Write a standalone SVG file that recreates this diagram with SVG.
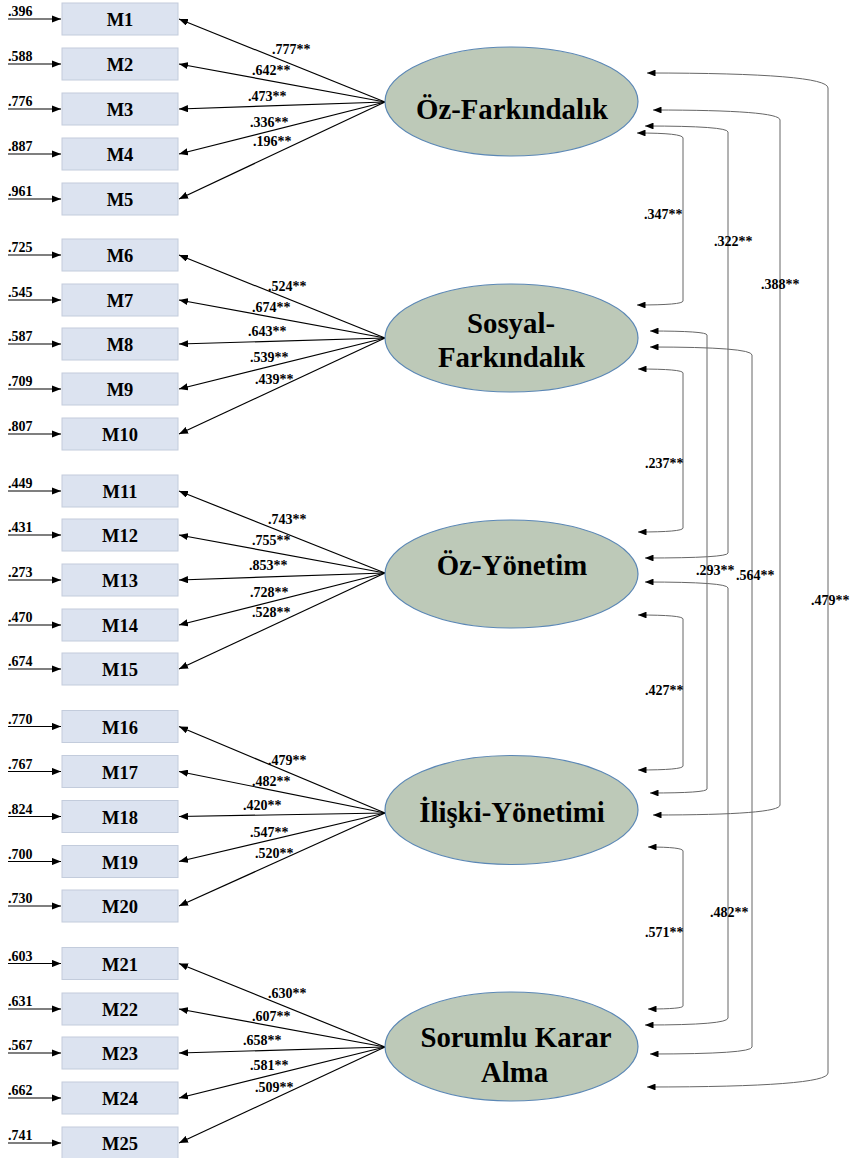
<svg xmlns="http://www.w3.org/2000/svg" width="852" height="1158" viewBox="0 0 852 1158">
<defs>
<marker id="ah" viewBox="0 0 10 8" refX="10" refY="4" markerWidth="9" markerHeight="7.2" markerUnits="userSpaceOnUse" orient="auto-start-reverse"><path d="M0,0 L10,4 L0,8 z" fill="#000"/></marker>
<marker id="ahs" viewBox="0 0 10 8" refX="10" refY="4" markerWidth="8.5" markerHeight="6.8" markerUnits="userSpaceOnUse" orient="auto-start-reverse"><path d="M0,0 L10,4 L0,8 z" fill="#000"/></marker>
</defs>
<style>
text{font-family:"Liberation Serif","Times New Roman",serif;font-weight:bold;fill:#000}
.box{fill:#dce3f0;stroke:#c3ccdc;stroke-width:1}
.bl{font-size:18.5px;text-anchor:middle}
.lat{fill:#bdc9b8;stroke:#5b87b5;stroke-width:1.2}
.ll{font-size:28.8px;text-anchor:middle}
.num{font-size:14px}
.load{stroke:#000;stroke-width:1.2;fill:none;marker-end:url(#ah)}
.err{stroke:#000;stroke-width:1.2;fill:none;marker-end:url(#ah)}
.cov{stroke:#666;stroke-width:1;fill:none;marker-start:url(#ahs);marker-end:url(#ahs)}
</style>
<rect width="852" height="1158" fill="#fff"/>

<g id="connectors">
<g id="errors">
<path class="err" d="M8,19 H61"/><path class="err" d="M8,64 H61"/><path class="err" d="M8,109 H61"/><path class="err" d="M8,154 H61"/><path class="err" d="M8,199 H61"/>
<path class="err" d="M8,255 H61"/><path class="err" d="M8,300 H61"/><path class="err" d="M8,344 H61"/><path class="err" d="M8,389 H61"/><path class="err" d="M8,434 H61"/>
<path class="err" d="M8,491 H61"/><path class="err" d="M8,535 H61"/><path class="err" d="M8,580 H61"/><path class="err" d="M8,625 H61"/><path class="err" d="M8,669 H61"/>
<path class="err" d="M8,726.5 H61"/><path class="err" d="M8,771.5 H61"/><path class="err" d="M8,816.5 H61"/><path class="err" d="M8,861.5 H61"/><path class="err" d="M8,906 H61"/>
<path class="err" d="M8,963.5 H61"/><path class="err" d="M8,1009 H61"/><path class="err" d="M8,1053 H61"/><path class="err" d="M8,1098 H61"/><path class="err" d="M8,1143 H61"/>
<text class="num" x="8" y="16">.396</text><text class="num" x="8" y="61">.588</text><text class="num" x="8" y="106">.776</text><text class="num" x="8" y="151">.887</text><text class="num" x="8" y="196">.961</text>
<text class="num" x="8" y="252">.725</text><text class="num" x="8" y="297">.545</text><text class="num" x="8" y="341">.587</text><text class="num" x="8" y="386">.709</text><text class="num" x="8" y="431">.807</text>
<text class="num" x="8" y="488">.449</text><text class="num" x="8" y="532">.431</text><text class="num" x="8" y="577">.273</text><text class="num" x="8" y="622">.470</text><text class="num" x="8" y="666">.674</text>
<text class="num" x="8" y="723.5">.770</text><text class="num" x="8" y="768.5">.767</text><text class="num" x="8" y="813.5">.824</text><text class="num" x="8" y="858.5">.700</text><text class="num" x="8" y="903">.730</text>
<text class="num" x="8" y="960.5">.603</text><text class="num" x="8" y="1006">.631</text><text class="num" x="8" y="1050">.567</text><text class="num" x="8" y="1095">.662</text><text class="num" x="8" y="1140">.741</text>
</g>
<g id="loadings">
<path class="load" d="M385,102 L179,19"/><path class="load" d="M385,102 L179,64"/><path class="load" d="M385,102 L179,109"/><path class="load" d="M385,102 L179,154"/><path class="load" d="M385,102 L179,199"/>
<path class="load" d="M385,338 L179,255"/><path class="load" d="M385,338 L179,300"/><path class="load" d="M385,338 L179,344"/><path class="load" d="M385,338 L179,389"/><path class="load" d="M385,338 L179,434"/>
<path class="load" d="M385,573 L179,491"/><path class="load" d="M385,573 L179,535"/><path class="load" d="M385,573 L179,580"/><path class="load" d="M385,573 L179,625"/><path class="load" d="M385,573 L179,669"/>
<path class="load" d="M385,813 L179,726.5"/><path class="load" d="M385,813 L179,771.5"/><path class="load" d="M385,813 L179,816.5"/><path class="load" d="M385,813 L179,861.5"/><path class="load" d="M385,813 L179,906"/>
<path class="load" d="M385,1047 L179,963.5"/><path class="load" d="M385,1047 L179,1009"/><path class="load" d="M385,1047 L179,1053"/><path class="load" d="M385,1047 L179,1098"/><path class="load" d="M385,1047 L179,1143"/>
<text class="num" x="272" y="54">.777**</text><text class="num" x="252" y="75">.642**</text><text class="num" x="248" y="101">.473**</text><text class="num" x="250" y="127">.336**</text><text class="num" x="253" y="146">.196**</text>
<text class="num" x="268" y="291">.524**</text><text class="num" x="252" y="312">.674**</text><text class="num" x="248" y="336">.643**</text><text class="num" x="250" y="362">.539**</text><text class="num" x="255" y="384">.439**</text>
<text class="num" x="268" y="524">.743**</text><text class="num" x="252" y="545">.755**</text><text class="num" x="249" y="570">.853**</text><text class="num" x="250" y="597">.728**</text><text class="num" x="252" y="617">.528**</text>
<text class="num" x="268" y="765">.479**</text><text class="num" x="252" y="786">.482**</text><text class="num" x="243" y="810">.420**</text><text class="num" x="250" y="837">.547**</text><text class="num" x="255" y="858">.520**</text>
<text class="num" x="268" y="998">.630**</text><text class="num" x="252" y="1021">.607**</text><text class="num" x="243" y="1045">.658**</text><text class="num" x="250" y="1070">.581**</text><text class="num" x="255" y="1092">.509**</text>
</g>
<g id="covariances">
<path class="cov" d="M637,133 Q683,133 683,138 V301 Q683,305 637,305"/>
<path class="cov" d="M645,126 Q728,126 728,132 V553 Q728,558 645,558"/>
<path class="cov" d="M653,110 Q780,110 780,120 V805 Q780,815 653,815"/>
<path class="cov" d="M647,73 Q828,73 828,88 V1073 Q828,1087 647,1087"/>
<path class="cov" d="M638,369 Q683,369 683,373 V528 Q683,532 638,532"/>
<path class="cov" d="M650,331 Q707,331 707,335 V789 Q707,793 650,793"/>
<path class="cov" d="M650,347 Q752,347 752,355 V1047 Q752,1054 650,1054"/>
<path class="cov" d="M638,615 Q683,615 683,619 V766 Q683,770 638,770"/>
<path class="cov" d="M645,582 Q728,582 728,588 V1018 Q728,1025 645,1025"/>
<path class="cov" d="M648,847 Q683,847 683,851 V1006 Q683,1009 648,1009"/>
<text class="num" x="644" y="219">.347**</text>
<text class="num" x="714" y="246">.322**</text>
<text class="num" x="761" y="289">.388**</text>
<text class="num" x="811" y="605">.479**</text>
<text class="num" x="645" y="468">.237**</text>
<text class="num" x="696" y="575">.293**</text>
<text class="num" x="736" y="580">.564**</text>
<text class="num" x="645" y="695">.427**</text>
<text class="num" x="710" y="917">.482**</text>
<text class="num" x="645" y="937">.571**</text>
</g>
</g>

<g id="M1"><rect class="box" x="62" y="3" width="116" height="32"/><text class="bl" x="120" y="26">M1</text></g>
<g id="M2"><rect class="box" x="62" y="48" width="116" height="32"/><text class="bl" x="120" y="71">M2</text></g>
<g id="M3"><rect class="box" x="62" y="93" width="116" height="32"/><text class="bl" x="120" y="116">M3</text></g>
<g id="M4"><rect class="box" x="62" y="138" width="116" height="32"/><text class="bl" x="120" y="161">M4</text></g>
<g id="M5"><rect class="box" x="62" y="183" width="116" height="32"/><text class="bl" x="120" y="206">M5</text></g>
<g id="M6"><rect class="box" x="62" y="239" width="116" height="32"/><text class="bl" x="120" y="262">M6</text></g>
<g id="M7"><rect class="box" x="62" y="284" width="116" height="32"/><text class="bl" x="120" y="307">M7</text></g>
<g id="M8"><rect class="box" x="62" y="328" width="116" height="32"/><text class="bl" x="120" y="351">M8</text></g>
<g id="M9"><rect class="box" x="62" y="373" width="116" height="32"/><text class="bl" x="120" y="396">M9</text></g>
<g id="M10"><rect class="box" x="62" y="418" width="116" height="32"/><text class="bl" x="120" y="441">M10</text></g>
<g id="M11"><rect class="box" x="62" y="475" width="116" height="32"/><text class="bl" x="120" y="498">M11</text></g>
<g id="M12"><rect class="box" x="62" y="519" width="116" height="32"/><text class="bl" x="120" y="542">M12</text></g>
<g id="M13"><rect class="box" x="62" y="564" width="116" height="32"/><text class="bl" x="120" y="587">M13</text></g>
<g id="M14"><rect class="box" x="62" y="609" width="116" height="32"/><text class="bl" x="120" y="632">M14</text></g>
<g id="M15"><rect class="box" x="62" y="653" width="116" height="32"/><text class="bl" x="120" y="676">M15</text></g>
<g id="M16"><rect class="box" x="62" y="710.5" width="116" height="32"/><text class="bl" x="120" y="733.5">M16</text></g>
<g id="M17"><rect class="box" x="62" y="755.5" width="116" height="32"/><text class="bl" x="120" y="778.5">M17</text></g>
<g id="M18"><rect class="box" x="62" y="800.5" width="116" height="32"/><text class="bl" x="120" y="823.5">M18</text></g>
<g id="M19"><rect class="box" x="62" y="845.5" width="116" height="32"/><text class="bl" x="120" y="868.5">M19</text></g>
<g id="M20"><rect class="box" x="62" y="890" width="116" height="32"/><text class="bl" x="120" y="913">M20</text></g>
<g id="M21"><rect class="box" x="62" y="947.5" width="116" height="32"/><text class="bl" x="120" y="970.5">M21</text></g>
<g id="M22"><rect class="box" x="62" y="993" width="116" height="32"/><text class="bl" x="120" y="1016">M22</text></g>
<g id="M23"><rect class="box" x="62" y="1037" width="116" height="32"/><text class="bl" x="120" y="1060">M23</text></g>
<g id="M24"><rect class="box" x="62" y="1082" width="116" height="32"/><text class="bl" x="120" y="1105">M24</text></g>
<g id="M25"><rect class="box" x="62" y="1127" width="116" height="32"/><text class="bl" x="120" y="1150">M25</text></g>

<g id="OzFarkindalik"><ellipse class="lat" cx="511.5" cy="101.5" rx="126.5" ry="54.5"/><text class="ll" x="512" y="119">Öz-Farkındalık</text></g>
<g id="SosyalFarkindalik"><ellipse class="lat" cx="511.5" cy="338" rx="126.5" ry="54"/><text class="ll" x="511" y="333">Sosyal-</text><text class="ll" x="511.5" y="367">Farkındalık</text></g>
<g id="OzYonetim"><ellipse class="lat" cx="511.5" cy="574" rx="126.5" ry="54"/><text class="ll" x="512" y="575">Öz-Yönetim</text></g>
<g id="IliskiYonetimi"><ellipse class="lat" cx="511.5" cy="810" rx="126.5" ry="54.5"/><text class="ll" x="512" y="822">İlişki-Yönetimi</text></g>
<g id="SorumluKararAlma"><ellipse class="lat" cx="511.5" cy="1046.5" rx="126.5" ry="54.5"/><text class="ll" x="516" y="1047">Sorumlu Karar</text><text class="ll" x="514.5" y="1082">Alma</text></g>
</svg>
